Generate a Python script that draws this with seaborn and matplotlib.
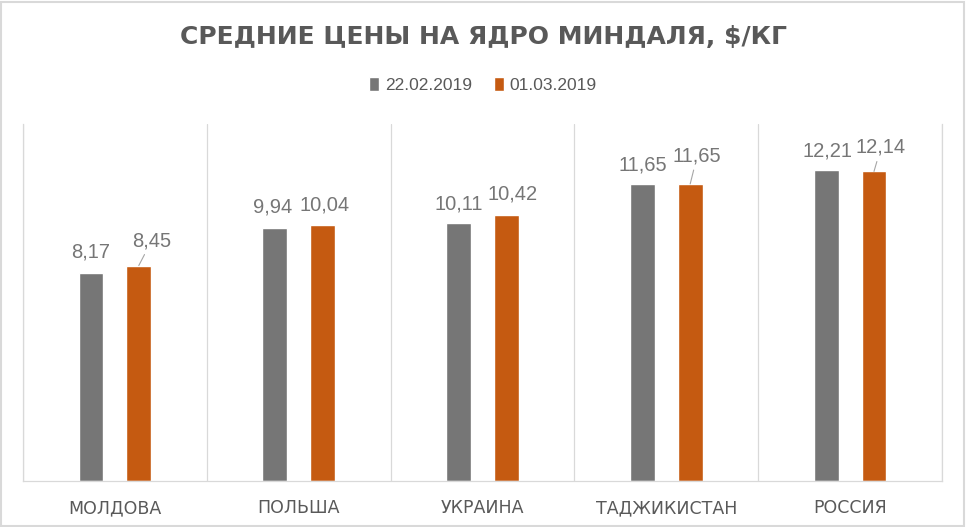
import numpy as np
import pandas as pd
import matplotlib.pyplot as plt
import seaborn as sns
from matplotlib.patches import Rectangle

countries = ['МОЛДОВА', 'ПОЛЬША', 'УКРАИНА', 'ТАДЖИКИСТАН', 'РОССИЯ']
dates = ['22.02.2019', '01.03.2019']
prices_feb22 = [8.17, 9.94, 10.11, 11.65, 12.21]
prices_mar01 = [8.45, 10.04, 10.42, 11.65, 12.14]

GREY = '#767676'
ORANGE = '#C55A11'
TEXT = '#595959'
LINE = '#D9D9D9'

# label offsets in pixels from the top of each bar (dx, dy), with leader line flag
label_offsets = {
    0: [(0, 21, False), (-2, 21, False), (0, 19, False), (0, 19, False), (1, 19, False)],
    1: [(13, 25, True), (2, 20, False), (6, 21, False), (7, 28, True), (7, 24, True)],
}


def build_frame():
    rows = []
    for vals, d in zip([prices_feb22, prices_mar01], dates):
        for c, v in zip(countries, vals):
            rows.append({'country': c, 'date': d, 'price': v})
    return pd.DataFrame(rows)


def main():
    sns.set_style('white')
    plt.rcParams['font.family'] = ['DejaVu Sans']

    data = build_frame()

    fig = plt.figure(figsize=(9.66, 5.27), dpi=100)
    ax = fig.add_axes([23 / 966, 46 / 527, 919 / 966, 357 / 527])

    sns.barplot(data=data, x='country', y='price', hue='date',
                palette=[GREY, ORANGE], saturation=1, width=0.52, gap=0.48,
                order=countries, hue_order=dates, ax=ax, legend=True)

    ax.set_xlim(-0.5, 4.5)
    ax.set_ylim(0, 14)
    ax.set_yticks([])
    ax.set_xlabel('')
    ax.set_ylabel('')

    # vertical category separators
    ax.set_xticks(np.arange(-0.5, 5, 1), minor=True)
    ax.grid(which='minor', axis='x', color=LINE, lw=0.9)
    ax.tick_params(axis='x', which='both', length=0, pad=13,
                   labelsize=12.5, labelcolor=TEXT)
    for s in ['left', 'right', 'bottom']:
        ax.spines[s].set_color(LINE)
        ax.spines[s].set_linewidth(0.9)
    ax.spines['top'].set_visible(False)

    # data labels
    for hi, cont in enumerate(ax.containers):
        for ci, bar in enumerate(cont):
            v = bar.get_height()
            x = bar.get_x() + bar.get_width() / 2
            dx, dy, leader = label_offsets[hi][ci]
            kw = {}
            if leader:
                kw['arrowprops'] = dict(arrowstyle='-', color='#A6A6A6', lw=0.8,
                                        shrinkA=1, shrinkB=0)
            ax.annotate(f'{v:.2f}'.replace('.', ','), xy=(x, v),
                        xytext=(dx, dy), textcoords='offset pixels',
                        ha='center', va='center', fontsize=14.5,
                        color=GREY, family='Liberation Sans', **kw)

    leg = ax.legend(loc='center', bbox_to_anchor=(0.5, 442 / 527),
                    bbox_transform=fig.transFigure, ncol=2, frameon=False,
                    handlelength=0.55, handleheight=0.9, handletextpad=0.35,
                    columnspacing=1.3, prop={'family': 'Liberation Sans', 'size': 12.5})
    for t in leg.get_texts():
        t.set_color(TEXT)

    fig.text(0.5, 490 / 527, 'СРЕДНИЕ ЦЕНЫ НА ЯДРО МИНДАЛЯ, $/КГ', ha='center',
             va='center', fontsize=18, fontweight='bold', color=TEXT)

    fig.patches.append(Rectangle((0.001, 0.002), 0.997, 0.995, transform=fig.transFigure,
                                 fill=False, edgecolor=LINE, lw=1.5))

    fig.savefig('out.png', dpi=100)


if __name__ == '__main__':
    main()
